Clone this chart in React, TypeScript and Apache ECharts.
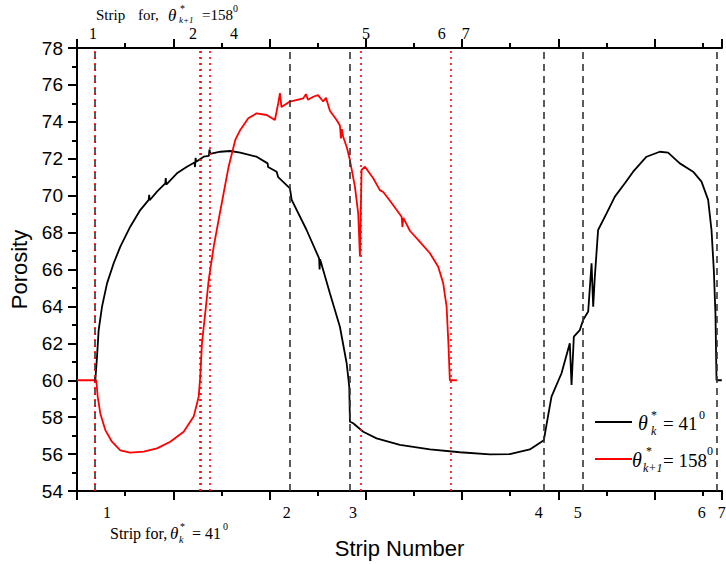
import React, { useEffect, useRef } from "react";
import * as echarts from "echarts";

// x in axis units (strip-position scale), y = porosity
const blackX = [0.19, 0.208, 0.225, 0.26, 0.312, 0.381, 0.45, 0.553, 0.657, 0.745, 0.75, 0.755, 0.831, 0.917, 0.922, 0.927, 1.038, 1.142, 1.22, 1.226, 1.232, 1.238, 1.316, 1.37, 1.376, 1.384, 1.488, 1.592, 1.696, 1.866, 1.98, 1.985, 2.074, 2.09, 2.212, 2.23, 2.385, 2.515, 2.52, 2.525, 2.627, 2.731, 2.801, 2.828, 2.835, 2.869, 2.973, 3.112, 3.354, 3.666, 3.977, 4.289, 4.496, 4.704, 4.849, 4.891, 4.929, 5.033, 5.119, 5.137, 5.161, 5.223, 5.258, 5.31, 5.345, 5.362, 5.379, 5.413, 5.501, 5.587, 5.691, 5.777, 5.916, 6.054, 6.14, 6.262, 6.4, 6.487, 6.556, 6.591, 6.615, 6.632, 6.643, 6.698];
const blackY = [60.0, 61.28, 62.72, 63.99, 65.25, 66.34, 67.24, 68.32, 69.22, 69.77, 70.05, 69.75, 70.22, 70.67, 70.95, 70.6, 71.21, 71.57, 71.8, 71.55, 72.05, 71.84, 72.11, 72.15, 72.5, 72.26, 72.38, 72.42, 72.33, 72.11, 71.75, 71.55, 71.3, 71.0, 70.4, 69.77, 68.14, 66.6, 66.0, 66.55, 64.71, 62.9, 60.92, 59.65, 57.76, 57.67, 57.21, 56.85, 56.5, 56.25, 56.1, 55.98, 56.0, 56.25, 56.75, 58.0, 59.11, 60.38, 62.0, 59.74, 62.36, 62.72, 63.27, 63.72, 66.34, 63.99, 65.61, 68.14, 69.04, 69.95, 70.67, 71.3, 72.11, 72.38, 72.33, 71.75, 71.3, 70.76, 69.77, 68.14, 65.97, 63.6, 60.0, 60.0];

const redX = [0, 0.2, 0.215, 0.242, 0.294, 0.363, 0.45, 0.553, 0.693, 0.831, 0.969, 1.108, 1.212, 1.264, 1.28, 1.298, 1.332, 1.368, 1.42, 1.471, 1.523, 1.575, 1.644, 1.696, 1.779, 1.866, 1.97, 2.056, 2.09, 2.108, 2.124, 2.212, 2.35, 2.378, 2.399, 2.454, 2.503, 2.558, 2.586, 2.627, 2.697, 2.731, 2.742, 2.752, 2.765, 2.804, 2.835, 2.887, 2.921, 2.939, 2.956, 2.991, 3.077, 3.146, 3.181, 3.268, 3.372, 3.38, 3.39, 3.458, 3.562, 3.666, 3.752, 3.804, 3.839, 3.858, 3.873, 3.946];
const redY = [60, 60, 59.11, 58.2, 57.3, 56.67, 56.2, 56.08, 56.13, 56.31, 56.67, 57.21, 58.03, 59.11, 60.19, 62.0, 63.63, 65.43, 67.24, 68.68, 70.13, 71.57, 73.02, 73.56, 74.19, 74.46, 74.37, 74.1, 75.0, 75.55, 74.8, 75.1, 75.27, 75.5, 75.2, 75.36, 75.45, 75.1, 75.3, 74.6, 74.1, 73.8, 73.1, 73.6, 73.19, 72.6, 71.93, 70.49, 69.04, 66.7, 71.39, 71.57, 70.94, 70.3, 70.2, 69.6, 68.86, 68.3, 68.8, 68.1, 67.5, 66.88, 66.15, 65.25, 64.0, 62.0, 60.0, 60.0];

// strip boundaries
const blackStrips = [0.183, 2.212, 2.835, 4.849, 5.254, 6.646];
const redStrips = [0.177, 1.27, 1.291, 1.378, 2.949, 3.884];

// strip number labels (position on x axis, text)
const bottomLabelX = [0.311, 2.18, 2.866, 4.797, 5.202, 6.49, 6.698];
const bottomLabelText = ["1", "2", "3", "4", "5", "6", "7"];
const topLabelX = [0.166, 1.205, 1.63, 3.001, 3.79, 4.039];
const topLabelText = ["1", "2", "4", "5", "6", "7"];

const SERIF = '"Liberation Serif", "Times New Roman", serif';
const SANS = '"Liberation Sans", Arial, sans-serif';

type Part = { dx: number; dy: number; t: string; s: number; it?: boolean };

function mathGroup(x: number, y: number, parts: Part[]) {
  return {
    type: "group",
    x,
    y,
    silent: true,
    children: parts.map((p) => ({
      type: "text",
      x: p.dx,
      y: p.dy,
      style: {
        text: p.t,
        fontSize: p.s,
        fontFamily: SERIF,
        fontStyle: p.it ? "italic" : "normal",
        fill: "#000",
        align: "left",
        verticalAlign: "middle",
        textAlign: "left",
        textVerticalAlign: "middle",
      },
    })),
  };
}

export default function App() {
  const ref = useRef<HTMLDivElement>(null);
  useEffect(() => {
    if (!ref.current) return;
    const chart = echarts.init(ref.current, null, { renderer: "svg" });
    const axisLine = { show: true, lineStyle: { color: "#000", width: 2 } };
    const option: any = {
      animation: false,
      backgroundColor: "#fff",
      grid: { left: 77, right: 4, top: 48, bottom: 73, containLabel: false },
      xAxis: [
        {
          type: "value",
          position: "bottom",
          min: 0,
          max: 6.7,
          interval: 1,
          axisLine,
          axisTick: { show: true, length: 9, lineStyle: { color: "#000", width: 2 } },
          minorTick: { show: true, splitNumber: 2, length: 5, lineStyle: { color: "#000", width: 2 } },
          axisLabel: { show: false },
          splitLine: { show: false },
          name: "Strip Number",
          nameLocation: "middle",
          nameGap: 46,
          nameTextStyle: { fontSize: 22, fontFamily: SANS, color: "#000" },
        },
        {
          type: "value",
          position: "top",
          min: 0,
          max: 6.7,
          interval: 1,
          axisLine,
          axisTick: { show: true, length: 9, lineStyle: { color: "#000", width: 2 } },
          minorTick: { show: true, splitNumber: 2, length: 5, lineStyle: { color: "#000", width: 2 } },
          axisLabel: { show: false },
          splitLine: { show: false },
        },
      ],
      yAxis: [
        {
          type: "value",
          min: 54,
          max: 78,
          interval: 2,
          axisLine,
          axisTick: { show: true, length: 9, lineStyle: { color: "#000", width: 2 } },
          minorTick: { show: true, splitNumber: 2, length: 5, lineStyle: { color: "#000", width: 2 } },
          axisLabel: { fontSize: 19, fontFamily: SANS, color: "#000", margin: 14 },
          splitLine: { show: false },
          name: "Porosity",
          nameLocation: "middle",
          nameGap: 46,
          nameTextStyle: { fontSize: 22, fontFamily: SANS, color: "#000" },
        },
        {
          type: "value",
          position: "right",
          min: 54,
          max: 78,
          interval: 2,
          axisLine,
          axisTick: { show: false },
          axisLabel: { show: false },
          splitLine: { show: false },
        },
      ],
      series: [
        {
          type: "line",
          data: blackX.map((x, i) => [x, blackY[i]]),
          showSymbol: false,
          lineStyle: { color: "#000", width: 1.8 },
          markLine: {
            silent: true,
            symbol: "none",
            label: { show: false },
            lineStyle: { color: "#333", width: 1.6, type: [7, 5] },
            data: blackStrips.map((x) => ({ xAxis: x })),
          },
        },
        {
          type: "line",
          data: redX.map((x, i) => [x, redY[i]]),
          showSymbol: false,
          lineStyle: { color: "#ff0000", width: 1.8 },
          markLine: {
            silent: true,
            symbol: "none",
            label: { show: false },
            lineStyle: { color: "#ff0000", width: 1.6, type: [2, 4] },
            data: redStrips.map((x) => ({ xAxis: x })),
          },
        },
      ],
    };
    chart.setOption(option);

    const px = (u: number) => chart.convertToPixel({ xAxisIndex: 0 }, u) as number;
    const numText = (x: number, y: number, t: string) => ({
      type: "text",
      x,
      y,
      silent: true,
      style: {
        text: t,
        fontSize: 16,
        fontFamily: SERIF,
        fill: "#000",
        align: "center",
        verticalAlign: "middle",
        textAlign: "center",
        textVerticalAlign: "middle",
      },
    });
    const graphics: any[] = [];
    bottomLabelX.forEach((u, i) => graphics.push(numText(px(u), 512, bottomLabelText[i])));
    topLabelX.forEach((u, i) => graphics.push(numText(px(u), 33, topLabelText[i])));

    graphics.push(
      mathGroup(110, 533, [
        { dx: 0, dy: 0, t: "Strip for,", s: 16 },
        { dx: 60, dy: 0, t: "θ", s: 17, it: true },
        { dx: 70, dy: -7, t: "*", s: 10 },
        { dx: 69, dy: 6, t: "k", s: 10, it: true },
        { dx: 82, dy: 0, t: "= 41", s: 16 },
        { dx: 113, dy: -7, t: "0", s: 10 },
      ])
    );
    graphics.push(
      mathGroup(96, 15, [
        { dx: 0, dy: 0, t: "Strip", s: 15 },
        { dx: 42, dy: 0, t: "for,", s: 15 },
        { dx: 72, dy: 0, t: "θ", s: 17, it: true },
        { dx: 84, dy: -7, t: "*", s: 10 },
        { dx: 83, dy: 5, t: "k+1", s: 9, it: true },
        { dx: 106, dy: 0, t: "=158", s: 15 },
        { dx: 137, dy: -7, t: "0", s: 10 },
      ])
    );
    // legend
    graphics.push({
      type: "line",
      silent: true,
      shape: { x1: 595, y1: 422, x2: 632, y2: 422 },
      style: { stroke: "#000", lineWidth: 2 },
    });
    graphics.push({
      type: "line",
      silent: true,
      shape: { x1: 595, y1: 459, x2: 632, y2: 459 },
      style: { stroke: "#ff0000", lineWidth: 2 },
    });
    graphics.push(
      mathGroup(638, 423, [
        { dx: 0, dy: 0, t: "θ", s: 20, it: true },
        { dx: 13, dy: -8, t: "*", s: 12 },
        { dx: 13, dy: 8, t: "k", s: 12, it: true },
        { dx: 25, dy: 0, t: "= 41", s: 19 },
        { dx: 61, dy: -8, t: "0", s: 12 },
      ])
    );
    graphics.push(
      mathGroup(632, 460, [
        { dx: 0, dy: 0, t: "θ", s: 20, it: true },
        { dx: 14, dy: -9, t: "*", s: 12 },
        { dx: 11, dy: 8, t: "k+1", s: 12, it: true },
        { dx: 31, dy: 0, t: "= 158", s: 19 },
        { dx: 75, dy: -9, t: "0", s: 12 },
      ])
    );
    chart.setOption({ graphic: graphics });

    return () => chart.dispose();
  }, []);
  return (
    <div
      ref={ref}
      style={{ position: "absolute", left: 0, top: 0, width: 726, height: 564, background: "#fff" }}
    />
  );
}
